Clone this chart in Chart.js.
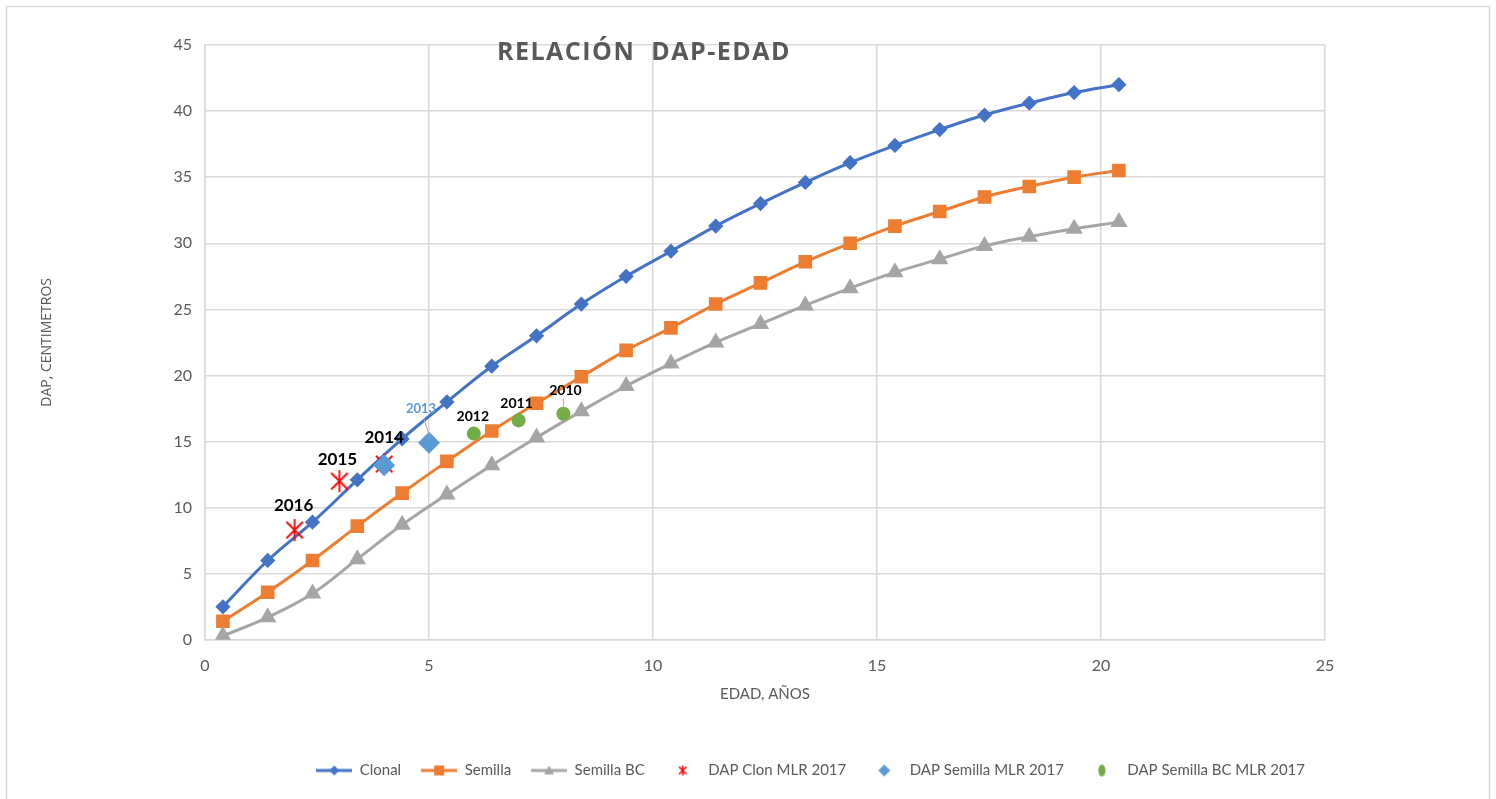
<!DOCTYPE html>
<html>
<head>
<meta charset="utf-8">
<script src="https://cdn.jsdelivr.net/npm/chart.js@4"></script>
<style>
  body { margin: 0; background: #fff; }
  #wrap { position: relative; width: 1496px; height: 799px; }
</style>
</head>
<body>
<div id="wrap"><canvas id="myChart"></canvas></div>
<script>
// edades de las curvas
const edades = [0.4, 1.4, 2.4, 3.4, 4.4, 5.4, 6.4, 7.4, 8.4, 9.4, 10.4, 11.4, 12.4, 13.4, 14.4, 15.4, 16.4, 17.4, 18.4, 19.4, 20.4];
const clonal = [2.5, 6.0, 8.9, 12.1, 15.2, 18.0, 20.7, 23.0, 25.4, 27.5, 29.4, 31.3, 33.0, 34.6, 36.1, 37.4, 38.6, 39.7, 40.6, 41.4, 42.0];
const semilla = [1.4, 3.6, 6.0, 8.6, 11.1, 13.5, 15.8, 17.9, 19.9, 21.9, 23.6, 25.4, 27.0, 28.6, 30.0, 31.3, 32.4, 33.5, 34.3, 35.0, 35.5];
const semillaBC = [0.3, 1.7, 3.5, 6.1, 8.7, 11.0, 13.2, 15.3, 17.3, 19.2, 20.9, 22.5, 23.9, 25.3, 26.6, 27.8, 28.8, 29.8, 30.5, 31.1, 31.6];

// mediciones MLR 2017
const clonEdad = [2, 3, 4];
const clonDap = [8.3, 12.0, 13.3];
const clonAnio = ['2016', '2015', '2014'];
const semEdad = [4, 5];
const semDap = [13.2, 14.9];
const semAnio = ['', '2013'];
const bcEdad = [6, 7, 8];
const bcDap = [15.6, 16.6, 17.1];
const bcAnio = ['2012', '2011', '2010'];

const xTicks = [0, 5, 10, 15, 20, 25];
const yTicks = [0, 5, 10, 15, 20, 25, 30, 35, 40, 45];

const FONT = "'Lato', sans-serif";
const AZUL = '#4472C4', NARANJA = '#ED7D31', GRIS = '#A5A5A5';
const ROJO = '#FF0000', CELESTE = '#5B9BD5', VERDE = '#70AD47';

function pts(xs, ys) {
    return xs.map((x, i) => ({ x: x, y: ys[i] }));
}

function mkCanvas(w, h, fn) {
    const c = document.createElement('canvas');
    c.width = w; c.height = h;
    fn(c.getContext('2d'), w, h);
    return c;
}

function estrella(size, color, lw) {
    return mkCanvas(size, size, (g, w, h) => {
        const r = size / 2 - 1;
        g.strokeStyle = color; g.lineWidth = lw;
        g.beginPath();
        g.moveTo(w / 2 - r * 0.75, h / 2 - r * 0.75); g.lineTo(w / 2 + r * 0.75, h / 2 + r * 0.75);
        g.moveTo(w / 2 + r * 0.75, h / 2 - r * 0.75); g.lineTo(w / 2 - r * 0.75, h / 2 + r * 0.75);
        g.moveTo(w / 2, h / 2 - r); g.lineTo(w / 2, h / 2 + r);
        g.stroke();
    });
}

function marca(g, tipo, cx, cy, r, color) {
    g.fillStyle = color;
    g.beginPath();
    if (tipo === 'diamond') {
        g.moveTo(cx, cy - r); g.lineTo(cx + r, cy); g.lineTo(cx, cy + r); g.lineTo(cx - r, cy);
    } else if (tipo === 'square') {
        g.rect(cx - r, cy - r, 2 * r, 2 * r);
    } else if (tipo === 'triangle') {
        g.moveTo(cx, cy - r); g.lineTo(cx + r, cy + r * 0.8); g.lineTo(cx - r, cy + r * 0.8);
    } else if (tipo === 'ellipse') {
        g.ellipse(cx, cy, r * 0.6, r, 0, 0, Math.PI * 2);
    }
    g.closePath();
    g.fill();
}

function leyendaLinea(color, tipo, r) {
    return mkCanvas(36, 14, (g, w, h) => {
        g.strokeStyle = color; g.lineWidth = 3;
        g.beginPath(); g.moveTo(0, h / 2); g.lineTo(w, h / 2); g.stroke();
        marca(g, tipo, w / 2, h / 2, r, color);
    });
}

function leyendaMarca(tipo, color) {
    return mkCanvas(36, 14, (g, w, h) => {
        if (tipo === 'star') {
            g.drawImage(estrella(12, color, 1.5), w / 2 - 6, 1);
        } else {
            marca(g, tipo, w / 2, h / 2, 6, color);
        }
    });
}

const iconos = [
    leyendaLinea(AZUL, 'diamond', 5),
    leyendaLinea(NARANJA, 'square', 5),
    leyendaLinea(GRIS, 'triangle', 5),
    leyendaMarca('star', ROJO),
    leyendaMarca('diamond', CELESTE),
    leyendaMarca('ellipse', VERDE)
];

// etiquetas de anio sobre las mediciones
const etiquetas = {
    id: 'etiquetas',
    afterDatasetsDraw(chart) {
        const g = chart.ctx;
        const conf = [
            { ds: 3, text: clonAnio, font: 'bold 17px ' + FONT, color: '#000', dy: [-25, -22, -26], dx: [-1, -2, 0] },
            { ds: 4, text: semAnio, font: 'bold 13px ' + FONT, color: CELESTE, dy: [0, -34], dx: [0, -8], lead: true },
            { ds: 5, text: bcAnio, font: 'bold 14px ' + FONT, color: '#000', dy: [-17, -17, -23], dx: [-1, -2, 2], leadSmall: true }
        ];
        g.save();
        g.textAlign = 'center';
        g.textBaseline = 'middle';
        conf.forEach(c => {
            const meta = chart.getDatasetMeta(c.ds);
            meta.data.forEach((p, i) => {
                if (!c.text[i]) return;
                const tx = p.x + c.dx[i], ty = p.y + c.dy[i];
                if (c.lead) {
                    g.strokeStyle = '#A6A6A6'; g.lineWidth = 1;
                    g.beginPath(); g.moveTo(tx + 3, ty + 10); g.lineTo(p.x + 1, p.y - 5); g.stroke();
                }
                if (c.leadSmall && i === 2) {
                    g.strokeStyle = '#A6A6A6'; g.lineWidth = 1;
                    g.beginPath(); g.moveTo(tx - 2, ty + 8); g.lineTo(p.x, p.y - 5); g.stroke();
                }
                g.font = c.font;
                g.fillStyle = c.color;
                g.fillText(c.text[i], tx, ty);
            });
        });
        g.restore();
    }
};

// titulo dentro del area y marco exterior
const marco = {
    id: 'marco',
    afterDraw(chart) {
        const g = chart.ctx;
        g.save();
        g.strokeStyle = '#D9D9D9'; g.lineWidth = 1.5;
        g.beginPath();
        g.moveTo(6.5, 820); g.lineTo(6.5, 6.5); g.lineTo(1489.5, 6.5); g.lineTo(1489.5, 820);
        g.stroke();
        g.font = "bold 25px 'Open Sans', sans-serif";
        g.letterSpacing = '1.5px';
        g.fillStyle = '#595959';
        g.textAlign = 'center';
        g.textBaseline = 'middle';
        g.fillText('RELACIÓN  DAP-EDAD', 644, 53);
        g.restore();
    }
};

const ctx = document.getElementById('myChart').getContext('2d');
const myChart = new Chart(ctx, {
    type: 'line',
    data: {
        datasets: [
            { label: 'Clonal', data: pts(edades, clonal), borderColor: AZUL, backgroundColor: AZUL, borderWidth: 3, pointStyle: 'rectRot', pointRadius: 5.5, tension: 0.4, order: 5 },
            { label: 'Semilla', data: pts(edades, semilla), borderColor: NARANJA, backgroundColor: NARANJA, borderWidth: 3, pointStyle: 'rect', pointRadius: 7.5, tension: 0.4, order: 4 },
            { label: 'Semilla BC', data: pts(edades, semillaBC), borderColor: GRIS, backgroundColor: GRIS, borderWidth: 3, pointStyle: 'triangle', pointRadius: 7, tension: 0.4, order: 3 },
            { label: 'DAP Clon MLR 2017', data: pts(clonEdad, clonDap), showLine: false, pointStyle: estrella(24, ROJO, 1.8), borderColor: ROJO, backgroundColor: ROJO, order: 1 },
            { label: 'DAP Semilla MLR 2017', data: pts(semEdad, semDap), showLine: false, pointStyle: 'rectRot', pointRadius: 11, borderWidth: 0, borderColor: CELESTE, backgroundColor: CELESTE, order: 0 },
            { label: 'DAP Semilla BC MLR 2017', data: pts(bcEdad, bcDap), showLine: false, pointStyle: 'circle', pointRadius: 7, borderWidth: 0, borderColor: VERDE, backgroundColor: VERDE, order: 2 }
        ]
    },
    options: {
        responsive: true,
        maintainAspectRatio: false,
        animation: false,
        layout: { padding: { left: 39, right: 171, top: 45, bottom: 11 } },
        scales: {
            x: {
                type: 'linear', min: 0, max: 25,
                afterBuildTicks: s => { s.ticks = xTicks.map(v => ({ value: v })); },
                grid: { color: '#D9D9D9', lineWidth: 1.5, drawTicks: false },
                border: { color: '#D9D9D9', width: 1.5 },
                ticks: { color: '#595959', font: { family: FONT, size: 16 }, padding: 16 },
                title: { display: true, text: 'EDAD, AÑOS', color: '#595959', font: { family: FONT, size: 15 }, padding: { top: -6, bottom: 40 } }
            },
            y: {
                type: 'linear', min: 0, max: 45,
                afterBuildTicks: s => { s.ticks = yTicks.map(v => ({ value: v })); },
                afterFit: s => { s.width = 166; },
                grid: { color: '#D9D9D9', lineWidth: 1.5, drawTicks: false },
                border: { color: '#D9D9D9', width: 1.5 },
                ticks: { color: '#595959', font: { family: FONT, size: 16 }, padding: 13 },
                title: { display: true, text: 'DAP, CENTIMETROS', color: '#595959', font: { family: "'Open Sans', sans-serif", size: 14 }, padding: 0 }
            }
        },
        plugins: {
            legend: {
                position: 'bottom',
                align: 'end',
                labels: {
                    usePointStyle: true,
                    pointStyleWidth: 36,
                    padding: 20,
                    color: '#595959',
                    font: { family: FONT, size: 15 },
                    generateLabels: chart => chart.data.datasets.map((d, i) => ({
                        text: d.label,
                        pointStyle: iconos[i],
                        fillStyle: d.backgroundColor,
                        strokeStyle: d.borderColor,
                        lineWidth: 0,
                        hidden: false,
                        datasetIndex: i,
                        fontColor: '#595959'
                    }))
                }
            },
            tooltip: { enabled: false }
        }
    },
    plugins: [etiquetas, marco]
});
</script>
</body>
</html>
